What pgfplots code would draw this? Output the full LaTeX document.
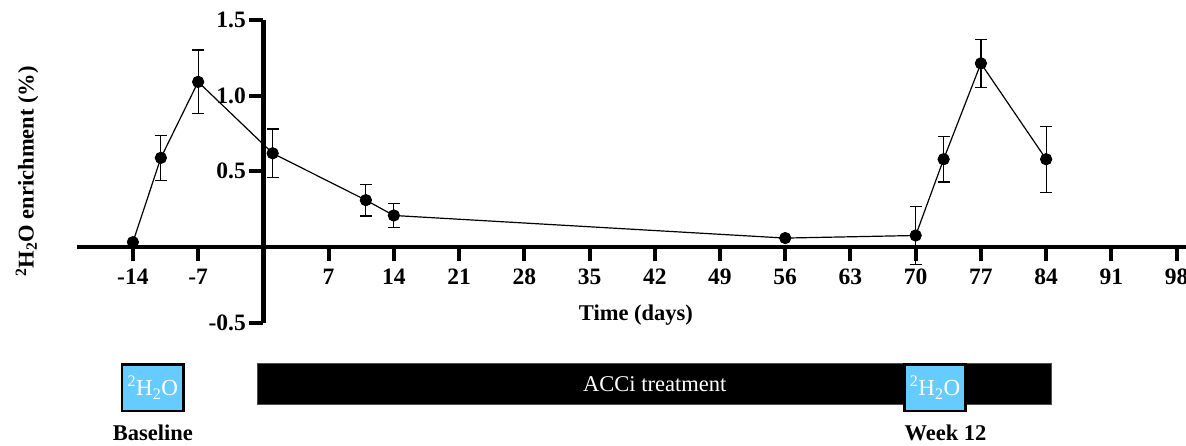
\documentclass[border=0pt]{standalone}
\usepackage{fontspec}
\setmainfont{Liberation Serif}
\usepackage{pgfplots}
\pgfplotsset{compat=1.18}
\definecolor{boxblue}{HTML}{66CCFF}
\begin{document}
\begin{tikzpicture}
\begin{axis}[
  scale only axis, width=1109pt, height=303.3pt,
  xmin=-20, xmax=99, ymin=-0.5, ymax=1.5,
  axis lines=middle,
  axis line style={-, line width=4.5pt},
  tick align=outside, major tick length=14pt,
  every tick/.style={black, line width=4pt},
  xtick={-14,-7,7,14,21,28,35,42,49,56,63,70,77,84,91,98},
  xticklabels={-14,-7,7,14,21,28,35,42,49,56,63,70,77,84,91,98},
  ytick={-0.5,0.5,1,1.5},
  yticklabels={-0.5,0.5,1.0,1.5},
  ticklabel style={font=\fontsize{23.5}{27}\selectfont\bfseries},
  xticklabel style={yshift=-4pt},
  xlabel={Time (days)},
  ylabel={\textsuperscript{2}H\textsubscript{2}O enrichment (\%)},
  xlabel style={at={(axis description cs:0.504,0.026)}, anchor=center, font=\fontsize{22.5}{26}\selectfont\bfseries},
  ylabel style={at={(axis description cs:-0.045,0.5)}, rotate=90, anchor=center, font=\fontsize{22.5}{26}\selectfont\bfseries},
  clip=false,
]
% timeline
\draw[fill=black, draw=black!70, line width=0.8pt] (axis cs:-0.59,-0.767) rectangle (axis cs:84.6,-1.037);
\draw[fill=boxblue, draw=black, line width=2.7pt] (axis cs:-15.18,-0.772) rectangle (axis cs:-8.57,-1.081);
\draw[fill=boxblue, draw=black, line width=2.7pt] (axis cs:68.8,-0.772) rectangle (axis cs:75.37,-1.081);
\node[text=white, font=\fontsize{22.5}{26}\selectfont] at (axis cs:42.0,-0.905) {ACCi treatment};
\node[text=white, font=\fontsize{23}{27}\selectfont] at (axis cs:-11.86,-0.925) {\textsuperscript{2}H\textsubscript{2}O};
\node[text=white, font=\fontsize{23}{27}\selectfont] at (axis cs:72.08,-0.925) {\textsuperscript{2}H\textsubscript{2}O};
\node[anchor=base, font=\fontsize{22.5}{26}\selectfont\bfseries] at (axis cs:-11.86,-1.278) {Baseline};
\node[anchor=base, font=\fontsize{22.5}{26}\selectfont\bfseries] at (axis cs:73.2,-1.278) {Week 12};
% data
\addplot[only marks, mark=*, mark size=5.5pt, black,
  error bars/.cd, y dir=both, y explicit,
  error bar style={line width=1.2pt, black},
  error mark options={rotate=90, mark size=6pt, line width=1.2pt, black}]
  coordinates {
  (-11,0.589) +- (0,0.15)
  (-7,1.09) +- (0,0.21)
  (1,0.619) +- (0,0.16)
  (11,0.31) +- (0,0.105)
  (14,0.209) +- (0,0.078)
  (70,0.077) +- (0,0.19)
  (73,0.58) +- (0,0.15)
  (77,1.212) +- (0,0.158)
  (84,0.58) +- (0,0.217)
  };
\addplot[black, line width=1.2pt, mark=*, mark size=5.5pt, mark options={fill=black}]
  coordinates {
  (-14,0.033) (-11,0.589) (-7,1.09) (1,0.619) (11,0.31) (14,0.209)
  (56,0.06) (70,0.077) (73,0.58) (77,1.212) (84,0.58)
  };
\end{axis}
\pgfresetboundingbox
\useasboundingbox (-77pt,-123pt) rectangle (1109pt,323pt);
\end{tikzpicture}
\end{document}
